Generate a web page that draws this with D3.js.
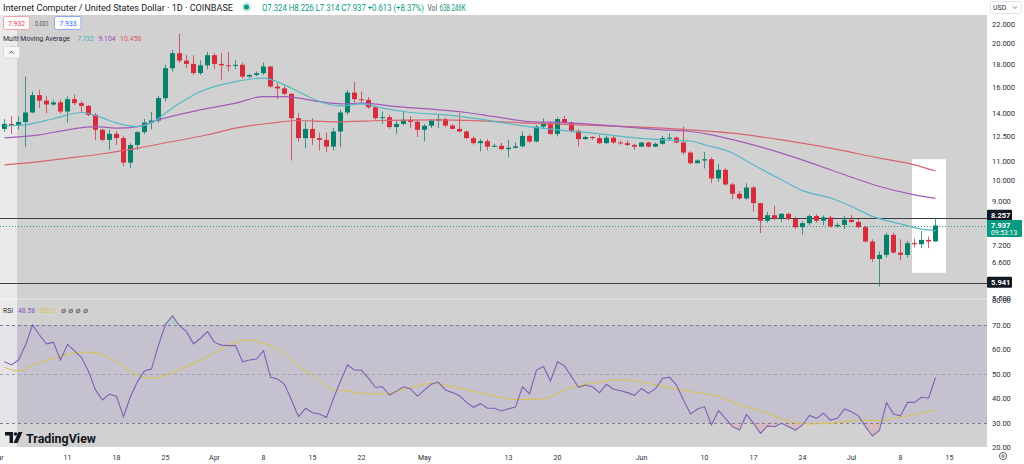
<!DOCTYPE html>
<html><head><meta charset="utf-8">
<script src="https://cdn.jsdelivr.net/npm/d3@7"></script>
<style>
html,body{margin:0;padding:0;background:#fff;overflow:hidden;}
svg{display:block;font-family:Roboto,"Open Sans",sans-serif;}
</style></head><body>
<svg id="c" width="1024" height="464"></svg>
<script>
// ---------------- DATA ----------------
const startDate = "2024-03-02";
const opens = [12.94,13.27,13.18,13.4,14.06,15.35,14.93,14.64,14.8,14.13,
15.04,14.74,14.54,13.89,12.88,12.24,12.62,12.35,10.91,11.93,
12.73,13.36,13.5,15.12,17.59,18.98,18.28,17.98,17.16,17.85,
18.79,17.98,17.85,17.8,17.9,16.86,17.0,17.15,17.74,16.03,
15.88,15.45,13.66,12.35,12.94,12.35,12.24,11.83,12.77,14.06,
15.55,15.04,14.99,14.44,13.66,13.73,13.06,13.27,13.55,13.41,
12.88,13.15,13.5,13.6,13.16,12.94,12.77,12.35,12.04,12.16,
11.83,11.88,11.68,11.76,11.85,12.49,12.14,13.09,13.27,12.62,
13.6,13.33,12.82,12.29,12.42,12.35,12.04,12.38,12.08,12.04,
11.93,11.83,12.08,11.83,12.0,12.35,12.38,12.08,11.48,10.88,
11.03,11.1,10.07,10.52,9.77,9.32,9.1,9.62,8.89,8.13,
8.36,8.22,8.42,8.2,7.87,8.03,8.33,8.13,8.27,7.9,
7.96,8.17,8.08,7.87,7.32,6.7,6.84,7.57,6.92,6.84,
7.26,7.22,7.38,7.324];
const highs = [13.6,13.8,13.8,16.86,15.63,15.76,15.25,15.0,15.0,15.25,
15.4,14.9,14.6,14.0,12.95,12.88,12.8,12.5,12.04,12.8,
13.6,14.1,15.3,17.9,19.29,20.93,18.8,18.8,18.3,19.1,
19.0,18.98,19.1,18.3,18.1,17.1,17.3,18.1,17.8,16.3,
16.1,15.5,14.0,13.43,13.66,12.7,12.7,13.0,14.25,15.76,
16.42,15.63,15.2,14.55,14.13,13.9,13.55,14.13,13.8,13.55,
13.25,13.6,13.97,13.7,13.27,14.0,12.85,12.45,12.3,12.3,
12.0,12.05,12.24,12.1,12.77,12.6,13.2,13.66,13.45,13.73,
13.82,13.43,12.9,12.49,12.49,12.55,12.49,12.49,12.2,12.2,
12.0,12.12,12.12,12.08,12.49,12.66,12.45,13.09,11.55,11.1,
11.52,11.2,10.84,10.6,9.85,9.45,9.83,9.7,8.9,8.5,
8.77,8.45,8.47,8.3,8.1,8.4,8.4,8.35,8.33,8.05,
8.33,8.38,8.2,7.92,7.4,6.96,7.65,7.65,7.4,7.35,
7.43,7.73,7.5,8.226];
const lows = [12.75,12.6,12.9,11.8,14.0,14.37,14.0,14.55,14.0,13.36,
14.6,14.1,13.8,12.24,12.14,11.64,11.93,10.7,10.6,11.64,
12.6,12.9,13.36,14.86,17.3,18.06,17.6,17.0,17.0,17.5,
17.5,16.58,17.3,17.5,16.7,16.7,16.9,17.0,15.95,15.04,
15.35,11.03,12.14,11.74,11.93,11.6,11.5,11.6,11.8,13.9,
14.8,14.75,14.3,13.55,13.27,12.95,12.62,13.2,13.0,12.42,
12.14,13.0,13.0,13.05,12.9,12.7,12.3,11.95,11.55,11.6,
11.8,11.62,11.19,11.7,11.78,12.05,12.08,13.0,12.55,12.45,
13.27,12.7,11.83,12.25,12.25,12.0,12.0,12.0,11.95,11.85,
11.64,11.8,11.78,11.8,11.95,12.2,12.04,11.35,10.8,10.85,
10.59,9.83,9.9,9.7,9.07,9.05,9.05,8.52,7.64,8.05,
8.15,8.06,8.15,7.8,7.57,7.95,8.05,7.95,7.85,7.85,
7.79,8.05,7.83,7.28,6.6,5.83,6.75,6.88,6.65,6.75,
7.1,7.08,7.08,7.314];
const closes = [13.27,13.18,13.4,14.06,15.35,14.93,14.64,14.8,14.13,15.04,
14.74,14.54,13.89,12.88,12.24,12.62,12.35,10.91,11.93,12.73,
13.36,13.5,15.12,17.59,18.98,18.28,17.98,17.16,17.85,18.79,
17.98,17.85,17.8,17.9,16.86,17.0,17.15,17.74,16.03,15.88,
15.45,13.66,12.35,12.94,12.35,12.24,11.83,12.77,14.06,15.55,
15.04,14.99,14.44,13.66,13.73,13.06,13.27,13.55,13.41,12.88,
13.15,13.5,13.6,13.16,12.94,12.77,12.35,12.04,12.16,11.83,
11.88,11.68,11.76,11.85,12.49,12.14,13.09,13.27,12.62,13.6,
13.33,12.82,12.29,12.42,12.35,12.04,12.38,12.08,12.04,11.93,
11.83,12.08,11.83,12.0,12.35,12.38,12.08,11.48,10.88,11.03,
11.1,10.07,10.52,9.77,9.32,9.1,9.62,8.89,8.13,8.36,
8.22,8.42,8.2,7.87,8.03,8.33,8.13,8.27,7.9,7.96,
8.17,8.08,7.87,7.32,6.7,6.84,7.57,6.92,6.84,7.26,
7.22,7.38,7.324,7.937];

// Multi moving average readings: [candle index, value]
const maFast = [[0,13.14],[3,13.21],[7,13.62],[11,14.06],[14,13.68],[16,13.34],[19,13.09],[21,13.36],[24,14.39],[28,15.63],[33,16.44],[37,16.73],[40,16.17],[42,15.63],[45,14.86],[48,14.54],[51,14.69],[54,14.37],[58,14.06],[63,13.89],[68,13.59],[73,13.21],[78,12.92],[80,12.83],[85,12.62],[89,12.41],[94,12.24],[98,12.17],[100,11.94],[104,11.45],[106,11.0],[111,10.0],[114,9.47],[118,9.12],[121,8.74],[124,8.31],[128,8.0],[131,7.79],[133,7.732]];
const maMid = [[0,12.37],[5,12.56],[9,12.88],[13,13.09],[16,12.99],[19,13.09],[22,13.55],[28,14.25],[33,14.74],[37,15.24],[40,15.24],[45,14.86],[48,14.69],[51,14.74],[56,14.49],[61,14.3],[66,14.06],[70,13.77],[75,13.43],[80,13.36],[85,13.21],[89,13.06],[94,12.88],[98,12.77],[101,12.56],[106,12.04],[111,11.45],[116,10.79],[120,10.26],[125,9.67],[130,9.27],[133,9.104]];
const maSlow = [[0,10.79],[5,10.97],[9,11.16],[14,11.41],[19,11.74],[24,12.14],[29,12.56],[33,12.99],[38,13.32],[42,13.5],[47,13.41],[54,13.5],[61,13.55],[68,13.48],[75,13.32],[82,13.21],[89,13.09],[94,12.99],[98,12.88],[104,12.66],[111,12.24],[118,11.74],[125,11.16],[130,10.79],[133,10.456]];

const rsi = [55.0,53.7,55.7,61.8,70.0,65.9,62.3,62.9,55.7,62.1,
59.4,56.7,51.0,43.5,39.4,41.8,40.8,32.6,40.8,46.9,
51.2,52.0,61.8,70.3,73.7,69.7,67.3,62.3,64.6,67.3,
62.9,61.8,61.6,61.6,55.0,55.7,56.1,59.5,48.7,48.0,
45.8,39.4,32.6,36.0,34.2,33.7,32.3,40.1,47.1,53.7,
51.6,51.5,48.2,44.6,44.8,41.4,43.0,44.8,43.9,41.0,
43.5,45.9,46.6,43.5,42.4,41.1,38.4,36.4,37.9,36.0,
36.0,34.9,35.8,36.5,44.8,42.0,51.6,53.1,47.1,55.0,
53.3,48.9,44.6,45.5,44.8,42.4,45.8,43.8,43.2,42.4,
41.3,44.1,42.1,44.0,48.2,48.7,45.5,39.4,33.7,35.7,
36.7,29.2,35.0,31.9,28.5,27.1,33.5,29.9,25.8,28.8,
28.5,29.9,28.5,27.1,29.2,33.1,31.9,34.0,31.2,31.9,
35.7,34.6,32.9,28.5,24.7,27.1,38.3,33.7,32.9,38.4,
38.4,40.5,40.1,48.58];
const rsiMa = [[0,52.7],[2,51.2],[4,53.7],[7,56.4],[9,58.0],[12,58.9],[14,57.8],[16,55.0],[18,51.0],[21,48.2],[23,49.6],[26,53.0],[29,57.1],[33,62.9],[35,63.9],[37,62.5],[40,58.4],[42,53.0],[44,49.6],[47,43.5],[49,43.1],[51,42.1],[54,41.8],[56,42.8],[58,44.4],[61,46.2],[63,45.5],[66,43.5],[69,41.7],[73,39.6],[76,39.6],[78,40.7],[80,43.5],[83,45.8],[86,47.1],[88,47.6],[95,44.4],[98,42.8],[102,40.8],[105,37.4],[109,34.0],[112,30.8],[115,29.6],[118,29.9],[123,31.2],[125,30.8],[127,31.9],[129,32.9],[133,35.31]];

const priceTicks = [22,20,18,16,14,12.5,11,10,9,7.2,6.6,5.5];
const rsiTicks = [80,70,60,50,40,30,20];
const timeTickDates = ["2024-03-01","2024-03-11","2024-03-18","2024-03-25","2024-04-01","2024-04-08","2024-04-15","2024-04-22","2024-05-01","2024-05-13","2024-05-20","2024-06-01","2024-06-10","2024-06-17","2024-06-24","2024-07-01","2024-07-08","2024-07-15"];
const timeTickLabels = ["Mar","11","18","25","Apr","8","15","22","May","13","20","Jun","10","17","24","Jul","8","15"];
const levelLines = [8.257, 5.941];
const lastPrice = 7.937;
const countdown = "09:53:13";
const highlightRange = ["2024-07-10","2024-07-15"];
const highlightPrices = [11.1, 6.25];

// ---------------- DRAW ----------------
const UP = "#07806b", DN = "#d62d3d";
const svg = d3.select("#c");
const R = 987, MT = 15, MB = 298, RT = 300, RB = 447;
const parse = d3.utcParse("%Y-%m-%d");
const t0 = parse(startDate);
const dates = opens.map((_, i) => d3.utcDay.offset(t0, i));
const x = d3.scaleUtc().domain([parse("2024-03-02"), parse("2024-07-15")]).range([4, 949]);
const y = d3.scaleLog().domain([5.5, 22]).range([298, 24]);
const yr = d3.scaleLinear().domain([20, 80]).range([447.5, 300.5]);

svg.append("rect").attr("width", 1024).attr("height", 464).attr("fill", "#fff");
svg.append("rect").attr("x", 0).attr("y", MT).attr("width", R).attr("height", MB - MT).attr("fill", "#d1d1d1");
svg.append("rect").attr("x", 0).attr("y", MB).attr("width", R).attr("height", RT - MB).attr("fill", "#dcdcdc");
svg.append("rect").attr("x", 0).attr("y", RT).attr("width", R).attr("height", RB - RT).attr("fill", "#d1d1d1");
// RSI band
svg.append("rect").attr("x", 0).attr("y", yr(70)).attr("width", R).attr("height", yr(30) - yr(70)).attr("fill", "rgba(126,87,194,0.13)");
// left highlighted strip
svg.append("rect").attr("x", 0).attr("y", MT).attr("width", 17).attr("height", RB - MT).attr("fill", "rgba(255,255,255,0.55)");
// white highlight box
svg.append("rect").attr("x", x(parse(highlightRange[0])) - 2).attr("y", y(highlightPrices[0]))
  .attr("width", x(parse(highlightRange[1])) - x(parse(highlightRange[0])) - 1)
  .attr("height", y(highlightPrices[1]) - y(highlightPrices[0])).attr("fill", "#fff");

// horizontal levels
svg.selectAll(".lvl").data(levelLines).join("line").attr("class", "lvl")
  .attr("x1", 0).attr("x2", R).attr("y1", d => Math.round(y(d)) + 0.5).attr("y2", d => Math.round(y(d)) + 0.5)
  .attr("stroke", "#3a3d45").attr("stroke-width", 1);
// last price dotted line
svg.append("line").attr("x1", 0).attr("x2", R).attr("y1", Math.round(y(lastPrice)) + 0.5).attr("y2", Math.round(y(lastPrice)) + 0.5)
  .attr("stroke", "#2a9d86").attr("stroke-dasharray", "1,2").attr("stroke-width", 1);

// candles
const candles = dates.map((d, i) => ({ d, o: opens[i], h: highs[i], l: lows[i], c: closes[i] }));
const gC = svg.append("g");
gC.selectAll("line").data(candles).join("line")
  .attr("x1", d => x(d.d) + 0.5).attr("x2", d => x(d.d) + 0.5)
  .attr("y1", d => y(d.h)).attr("y2", d => y(d.l))
  .attr("stroke", d => d.c >= d.o ? UP : DN).attr("stroke-width", 1).attr("opacity", 0.75);
gC.selectAll("rect").data(candles).join("rect")
  .attr("x", d => x(d.d) - 2).attr("width", 5)
  .attr("y", d => y(Math.max(d.o, d.c)))
  .attr("height", d => Math.max(1, Math.abs(y(d.o) - y(d.c))))
  .attr("fill", d => d.c >= d.o ? UP : DN);

// moving averages
const maLine = d3.line().x(d => x(dates[d[0]]) + 0.5).y(d => y(d[1])).curve(d3.curveMonotoneX);
[[maSlow, "#d9646f"], [maMid, "#a35bba"], [maFast, "#56b9c5"]].forEach(([arr, col]) => {
  svg.append("path").attr("d", maLine(arr)).attr("fill", "none").attr("stroke", col).attr("stroke-width", 1.2);
});

// RSI panel
[70, 50, 30].forEach(v => {
  svg.append("line").attr("x1", 0).attr("x2", R).attr("y1", Math.round(yr(v)) + 0.5).attr("y2", Math.round(yr(v)) + 0.5)
    .attr("stroke", v === 50 ? "#a2a2aa" : "#7d7f88").attr("stroke-dasharray", "3,3").attr("stroke-width", 1);
});
const defs = svg.append("defs");
defs.append("clipPath").attr("id", "below30").append("rect").attr("x", 0).attr("y", yr(30)).attr("width", R).attr("height", RB - yr(30));
defs.append("clipPath").attr("id", "above70").append("rect").attr("x", 0).attr("y", RT).attr("width", R).attr("height", yr(70) - RT);
const rsiArea30 = d3.area().x((d, i) => x(dates[i]) + 0.5).y0(yr(30)).y1(d => yr(d));
const rsiArea70 = d3.area().x((d, i) => x(dates[i]) + 0.5).y0(yr(70)).y1(d => yr(d));
svg.append("path").attr("d", rsiArea30(rsi)).attr("fill", "rgba(242,54,69,0.13)").attr("clip-path", "url(#below30)");
svg.append("path").attr("d", rsiArea70(rsi)).attr("fill", "rgba(8,153,129,0.13)").attr("clip-path", "url(#above70)");
const rsiMaLine = d3.line().x(d => x(dates[d[0]]) + 0.5).y(d => yr(d[1])).curve(d3.curveMonotoneX);
svg.append("path").attr("d", rsiMaLine(rsiMa)).attr("fill", "none").attr("stroke", "#d9c443").attr("stroke-width", 1);
const rsiLine = d3.line().x((d, i) => x(dates[i]) + 0.5).y(d => yr(d));
svg.append("path").attr("d", rsiLine(rsi)).attr("fill", "none").attr("stroke", "#7b62b5").attr("stroke-width", 1.1);

// ---------- axes ----------
const axisStyle = g => {
  g.select(".domain").remove();
  g.selectAll(".tick line").remove();
  g.selectAll("text").attr("fill", "#2a2e39").attr("font-size", 7.5).attr("font-family", "Roboto, sans-serif");
};
svg.append("g").attr("transform", `translate(${R},0)`)
  .call(d3.axisRight(y).tickValues(priceTicks).tickFormat(d3.format(".3f")).tickSize(0).tickPadding(5))
  .call(axisStyle);
svg.append("g").attr("transform", `translate(${R},0)`)
  .call(d3.axisRight(yr).tickValues(rsiTicks).tickFormat(d3.format(".2f")).tickSize(0).tickPadding(5))
  .call(axisStyle);
svg.append("g").attr("transform", `translate(0,${RB + 5})`)
  .call(d3.axisBottom(x).tickValues(timeTickDates.map(parse)).tickFormat((d, i) => timeTickLabels[i]).tickSize(0).tickPadding(3))
  .call(axisStyle)
  .call(g => g.selectAll("text").attr("font-size", 7));

// price labels on the axis
const lvlBox = (v, cy) => {
  svg.append("rect").attr("x", R).attr("y", cy - 5.5).attr("width", 25).attr("height", 11).attr("fill", "#131722").attr("rx", 1);
  svg.append("text").attr("x", R + 4).attr("y", cy + 0.5).attr("dominant-baseline", "middle")
    .attr("font-size", 7.5).attr("font-weight", "bold").attr("fill", "#fff").text(d3.format(".3f")(v));
};
lvlBox(levelLines[0], y(levelLines[0]) - 2.5);
lvlBox(levelLines[1], y(levelLines[1]) - 0.5);
const gy = y(lastPrice);
svg.append("rect").attr("x", R).attr("y", gy - 5.5).attr("width", 35).attr("height", 17).attr("fill", "#089981").attr("rx", 1);
svg.append("text").attr("x", R + 4).attr("y", gy + 0.5).attr("dominant-baseline", "middle").attr("font-size", 7.5)
  .attr("font-weight", "bold").attr("fill", "#fff").text(d3.format(".3f")(lastPrice));
svg.append("text").attr("x", R + 4).attr("y", gy + 7.5).attr("dominant-baseline", "middle").attr("font-size", 6.8)
  .attr("fill", "#fff").text(countdown);

// USD selector
svg.append("rect").attr("x", 990.5).attr("y", 1.5).attr("width", 31).attr("height", 12).attr("rx", 2).attr("fill", "#fff").attr("stroke", "#e0e3eb");
svg.append("text").attr("x", 993).attr("y", 10.3).attr("font-size", 7).attr("fill", "#2a2e39").text("USD");
svg.append("path").attr("d", "M1013,6.5 l2,2 l2,-2").attr("fill", "none").attr("stroke", "#50535e").attr("stroke-width", 0.8);
// settings icon bottom right
svg.append("circle").attr("cx", 1003).attr("cy", 456).attr("r", 3.6).attr("fill", "none").attr("stroke", "#50535e").attr("stroke-width", 0.9);
svg.append("circle").attr("cx", 1003).attr("cy", 456).attr("r", 1.3).attr("fill", "none").attr("stroke", "#50535e").attr("stroke-width", 0.8);

// ---------- legends ----------
const txt = (xx, yy, s, col, size, len, weight) => {
  const t = svg.append("text").attr("x", xx).attr("y", yy).attr("font-size", size).attr("fill", col).text(s);
  if (len) t.attr("textLength", len).attr("lengthAdjust", "spacingAndGlyphs");
  if (weight) t.attr("font-weight", weight);
  return t;
};
txt(3, 10.5, "Internet Computer / United States Dollar · 1D · COINBASE", "#131722", 9.2, 230);
svg.append("circle").attr("cx", 246.5).attr("cy", 7).attr("r", 5).attr("fill", "rgba(8,153,129,0.18)");
svg.append("circle").attr("cx", 246.5).attr("cy", 7).attr("r", 2.6).attr("fill", "#089981");
txt(262, 10.5, "O7.324  H8.226  L7.314  C7.937  +0.613 (+8.37%)", "#089981", 8.5, 162);
txt(427.5, 10.5, "Vol", "#50535e", 8.5, 9.5);
txt(439.5, 10.5, "638.246K", "#089981", 8.5, 26);

svg.append("rect").attr("x", 3.5).attr("y", 16.5).attr("width", 26).attr("height", 13).attr("rx", 2).attr("fill", "#fff").attr("stroke", "#f5a3aa");
txt(8, 26, "7.932", "#f23645", 8, 17);
txt(35, 26, "0.001", "#50535e", 7, 14);
svg.append("rect").attr("x", 54.5).attr("y", 16.5).attr("width", 26.5).attr("height", 13).attr("rx", 2).attr("fill", "#fff").attr("stroke", "#8fa8f2");
txt(59.5, 26, "7.933", "#2962ff", 8, 17);

txt(3, 41, "Multi Moving Average", "#2a2e39", 8, 67);
txt(77.5, 41, "7.732", "#3fb0bb", 8, 16);
txt(98.5, 41, "9.104", "#9c48b8", 8, 17);
txt(120, 41, "10.456", "#e05a66", 8, 21.5);
svg.append("rect").attr("x", 3.5).attr("y", 46.5).attr("width", 16).attr("height", 11.5).attr("rx", 2).attr("fill", "#f7f7f7").attr("stroke", "#dadada");
svg.append("path").attr("d", "M9.3,53.5 l2.2,-2.2 l2.2,2.2").attr("fill", "none").attr("stroke", "#2a2e39").attr("stroke-width", 0.9);

txt(3, 313, "RSI", "#2a2e39", 7.5, 10);
txt(18, 313, "48.58", "#7e57c2", 7.5, 17);
txt(39.5, 313, "35.31", "#d9c443", 7.5, 17.5);
txt(61, 313, "ø  ø  ø  ø", "#50535e", 7.5, 27);

// TradingView logo
svg.append("path").attr("d", "M5,432 h8 v11 h-3.5 v-7.5 h-4.5 z").attr("fill", "#131722");
svg.append("circle").attr("cx", 15.5).attr("cy", 434).attr("r", 1.8).attr("fill", "#131722");
svg.append("path").attr("d", "M18.5,432 h4 l-5,11 h-4 z").attr("fill", "#131722");
txt(26, 442.5, "TradingView", "#131722", 12, 70, "bold");
</script>
</body></html>
